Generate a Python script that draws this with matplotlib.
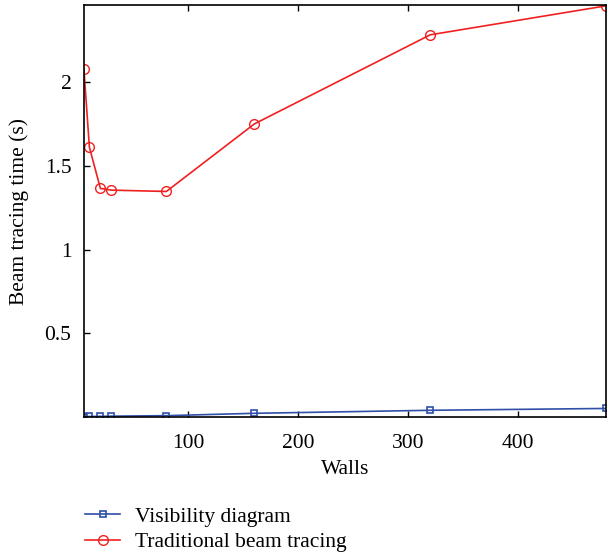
import matplotlib
matplotlib.use('Agg')
import matplotlib.pyplot as plt

walls = [5, 10, 20, 30, 80, 160, 320, 480]
visibility_diagram = [0.003, 0.004, 0.005, 0.006, 0.009, 0.023, 0.041, 0.052]
traditional = [2.077, 1.611, 1.365, 1.355, 1.347, 1.75, 2.282, 2.455]

x_ticks = [100, 200, 300, 400]
y_ticks = [0.5, 1, 1.5, 2]
y_tick_labels = ['0.5', '1', '1.5', '2']

plt.rcParams['font.family'] = ['Liberation Serif', 'DejaVu Serif']
plt.rcParams['font.size'] = 15.5

fig = plt.figure(figsize=(6.08, 5.54), dpi=100)
ax = fig.add_axes([0.138, 0.247, 0.859, 0.744])

ax.plot(walls, visibility_diagram, color='#2f4fa8', lw=1.2, marker='s',
        ms=5, mfc='none', mec='#2f4fa8', mew=1.2, label='Visibility diagram')
ax.plot(walls, traditional, color='#f02020', lw=1.2, marker='o',
        ms=7, mfc='none', mec='#f02020', mew=1.0, label='Traditional beam tracing')

ax.set_xlim(5, 480)
ax.set_ylim(0, 2.46)
ax.set_xticks(x_ticks)
ax.set_yticks(y_ticks)
ax.set_yticklabels(y_tick_labels)
ax.tick_params(direction='in', length=4, width=1, top=True, right=False)
ax.tick_params(axis='x', pad=12)
ax.tick_params(axis='y', pad=9)
for s in ax.spines.values():
    s.set_linewidth(1.2)

ax.set_xlabel('Walls', labelpad=5)
ax.set_ylabel('Beam tracing time (s)', labelpad=11)

fig.legend(loc='upper left', bbox_to_anchor=(0.14, 0.085), frameon=False,
           handlelength=1.63, labelspacing=0.25, handletextpad=0.68,
           borderaxespad=0, borderpad=0)

fig.savefig('out.png', dpi=100)
